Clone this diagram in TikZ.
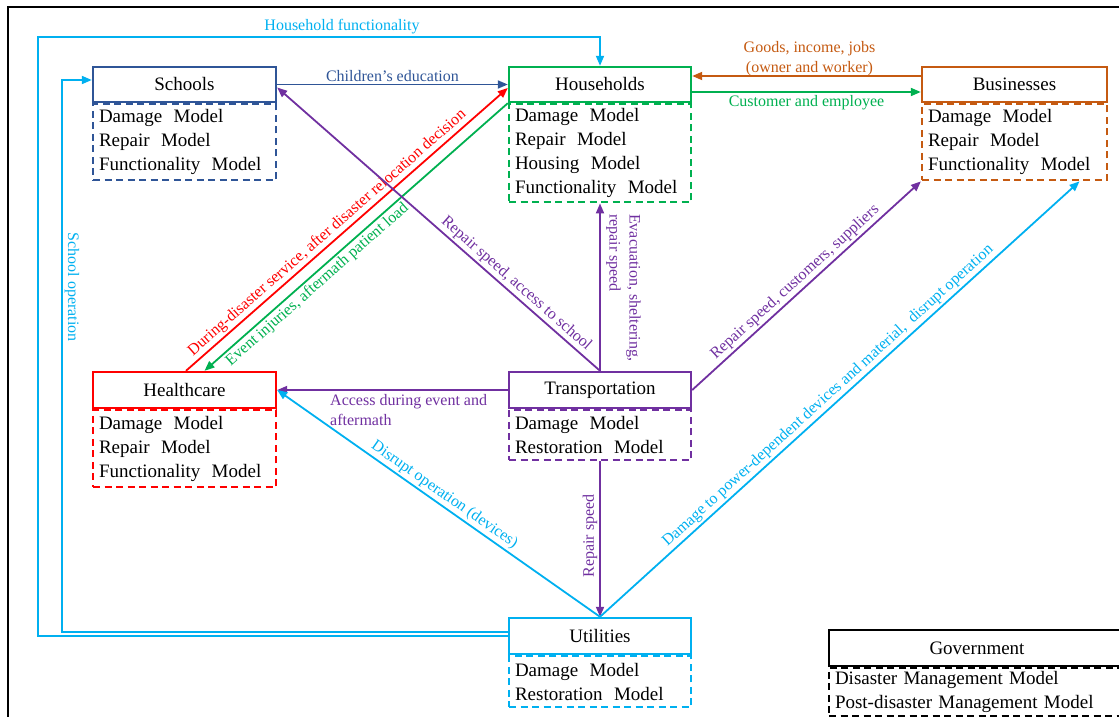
\documentclass[tikz,border=0pt]{standalone}
\usepackage{fontspec}
\setmainfont{Liberation Serif}
\usetikzlibrary{arrows.meta}

% sector colours
\definecolor{schc}{RGB}{47,85,151}
\definecolor{hhc}{RGB}{0,176,80}
\definecolor{busc}{RGB}{197,90,17}
\definecolor{hcc}{RGB}{255,0,0}
\definecolor{trc}{RGB}{112,48,160}
\definecolor{utc}{RGB}{0,176,240}

\newcommand{\boxfont}{\fontsize{19}{24}\selectfont}
\newcommand{\lblfont}{\fontsize{16}{20}\selectfont}
% wide gap between words of a model name
\newcommand{\wsp}{\hspace{0.6em}}

\begin{document}
\begin{tikzpicture}[x=1pt,y=-1pt,
  hdr/.style={draw, line width=2.4pt, inner sep=0pt, minimum height=35pt, font=\boxfont},
  mbody/.style={draw, dashed, dash pattern=on 7pt off 4.5pt, line width=2.2pt, anchor=north,
                align=left, inner xsep=6pt, inner ysep=0pt, font=\boxfont},
  conn/.style={line width=1.8pt, -{Triangle[length=10pt,width=8pt]}},
  lbl/.style={font=\lblfont, inner sep=2pt},
]
\useasboundingbox (0,0) rectangle (1119,717);

% outer frame
\draw[line width=2.5pt] (8,730) -- (8,7) -- (1130,7);

% ---- sector boxes: solid title, dashed model list ----
\node[hdr, draw=schc, minimum width=183pt] (sch) at (184.5,84.5) {Schools};
\node[mbody, draw=schc, minimum width=183pt, text width=171pt, minimum height=76pt] (schB) at (sch.south)
  {Damage\wsp Model\\Repair\wsp Model\\Functionality\wsp Model};

\node[hdr, draw=hhc, minimum width=182pt] (hh) at (600,84.5) {Households};
\node[mbody, draw=hhc, minimum width=182pt, text width=170pt, minimum height=98pt] (hhB) at (hh.south)
  {Damage\wsp Model\\Repair\wsp Model\\Housing\wsp Model\\Functionality\wsp Model};

\node[hdr, draw=busc, minimum width=185pt] (bus) at (1014.5,84.5) {Businesses};
\node[mbody, draw=busc, minimum width=185pt, text width=173pt, minimum height=76pt] (busB) at (bus.south)
  {Damage\wsp Model\\Repair\wsp Model\\Functionality\wsp Model};

\node[hdr, draw=hcc, minimum width=183pt, minimum height=36pt] (hc) at (184.5,390) {Healthcare};
\node[mbody, draw=hcc, minimum width=183pt, text width=171pt, minimum height=77pt] (hcB) at (hc.south)
  {Damage\wsp Model\\Repair\wsp Model\\Functionality\wsp Model};

\node[hdr, draw=trc, minimum width=182pt, minimum height=36pt] (tr) at (600,390) {Transportation};
\node[mbody, draw=trc, minimum width=182pt, text width=170pt, minimum height=50pt] (trB) at (tr.south)
  {Damage\wsp Model\\Restoration\wsp Model};

\node[hdr, draw=utc, minimum width=182pt, minimum height=36pt] (ut) at (600,636) {Utilities};
\node[mbody, draw=utc, minimum width=182pt, text width=170pt, minimum height=51pt] (utB) at (ut.south)
  {Damage\wsp Model\\Restoration\wsp Model};

\node[hdr, draw=black, line width=1.8pt, minimum width=296pt, minimum height=36pt] (gov) at (977,648) {Government};
\node[mbody, draw=black, line width=1.8pt, minimum width=296pt, text width=284pt, minimum height=48pt] (govB) at (gov.south)
  {Disaster Management Model\\Post-disaster Management Model};

% ---- feedback loops from utilities along the left margin ----
\coordinate (hfTop) at (38,37);
\coordinate (soBend) at (62,80);
\draw[conn, utc] (ut.west) -| (hfTop) -| (hh.north);
\node[lbl, text=utc] (hfL) at (342,27) {Household functionality};
\draw[conn, utc] ([yshift=4pt]ut.west) -| (soBend) -- (soBend -| sch.west);
\node[lbl, text=utc, rotate=-90] (soL) at (72,287) {School operation};

% ---- top row ----
\draw[conn, schc] (sch.east) -- (hh.west)
  node[lbl, midway, above, text=schc] (ceL) {Children’s education};
\draw[conn, busc] ([yshift=8.5pt]bus.west) -- ([yshift=8.5pt]hh.east)
  node[lbl, midway, above, yshift=-3pt, xshift=3pt, text=busc, align=center] (giL) {Goods, income, jobs\\(owner and worker)};
\draw[conn, hhc] ([yshift=-7.5pt]hh.east) -- ([yshift=-7.5pt]bus.west)
  node[lbl, midway, below, text=hhc] (ceeL) {Customer and employee};

% ---- healthcare and households ----
\draw[conn, hcc] ([xshift=1.5pt]hc.north) -- ([yshift=-3.5pt]hh.west)
  node[lbl, sloped, pos=0.46, above, text=hcc] (ddL) {During-disaster service, after disaster relocation decision};
\draw[conn, hhc] (hh.south west) -- ([xshift=20pt]hc.north)
  node[lbl, sloped, pos=0.65, below, text=hhc] (eiL) {Event injuries, aftermath patient load};

% ---- transportation ----
\draw[conn, trc] (tr.north) -- ([yshift=-3pt]sch.east)
  node[lbl, sloped, pos=0.28, above, text=trc] (rsL) {Repair speed, access to school};
\draw[conn, trc] (tr.north) -- (hhB.south);
\node[lbl, text=trc, rotate=-90, anchor=south west, align=left] (evL) at (604,212)
  {Evacuation, sheltering,\\repair speed};
\draw[conn, trc] (tr.west) -- (hc.east);
\node[lbl, text=trc, anchor=north west, align=left] (adL) at (328,392)
  {Access during event and\\aftermath};
\draw[conn, trc] (tr.east) -- (busB.south west)
  node[lbl, sloped, pos=0.48, above, text=trc] (rcL) {Repair speed, customers, suppliers};
\draw[conn, trc] (trB.south) -- (ut.north);
\node[lbl, text=trc, rotate=90] (rpL) at (590,536) {Repair speed};

% ---- utilities ----
\draw[conn, utc] (ut.north) -- (hc.east)
  node[lbl, sloped, pos=0.5, above, text=utc] (doL) {Disrupt operation (devices)};
\draw[conn, utc] (ut.north) -- ([xshift=65pt]busB.south)
  node[lbl, sloped, pos=0.49, above, text=utc] (dpL) {Damage to power-dependent devices and material,\ \ disrupt operation};
\end{tikzpicture}
\end{document}
